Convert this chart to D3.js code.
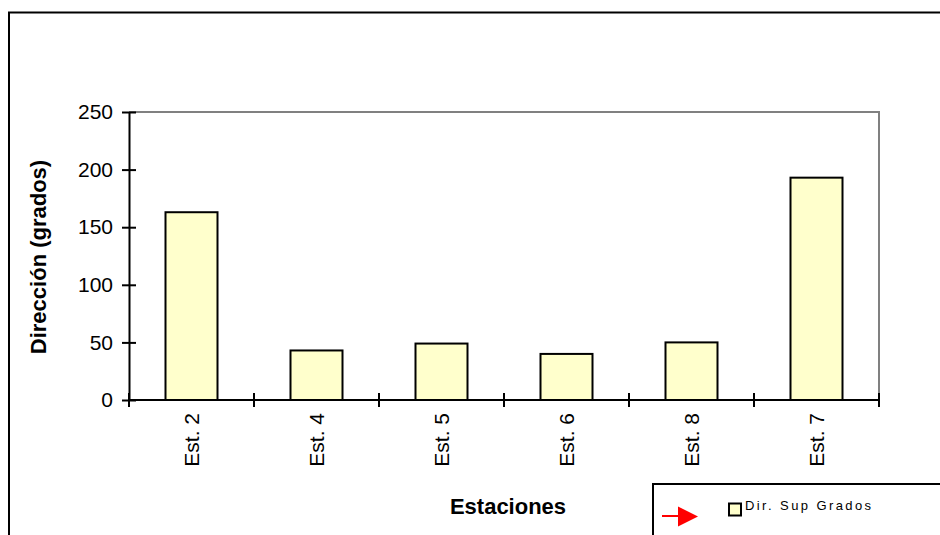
<!DOCTYPE html>
<html>
<head>
<meta charset="utf-8">
<script src="https://cdn.jsdelivr.net/npm/d3@7"></script>
<style>
  html, body { margin: 0; padding: 0; background: #fff; }
  svg { display: block; font-family: "Liberation Sans", Arial, sans-serif; }
</style>
</head>
<body>
<svg id="chart" width="940" height="535"></svg>
<script>
// Surface direction per station (degrees)
const estaciones = ["Est. 2", "Est. 4", "Est. 5", "Est. 6", "Est. 8", "Est. 7"];
const direccion = [163, 43, 49, 40, 50, 193];
const yTicks = [0, 50, 100, 150, 200, 250];
const serieNombre = "Dir. Sup Grados";

const svg = d3.select("#chart");
const plot = { left: 129, right: 879, top: 112, bottom: 400 };

// Outer frame (top and left edges visible)
svg.append("path")
  .attr("d", "M9,535 V12.5 H940")
  .attr("fill", "none").attr("stroke", "#000").attr("stroke-width", 2);

const x = d3.scaleBand()
  .domain(estaciones)
  .range([plot.left, plot.right])
  .paddingInner(0.584)
  .paddingOuter(0.292);

const y = d3.scaleLinear().domain([0, 250]).range([plot.bottom, plot.top]);

// Plot area border (grey top and right)
svg.append("path")
  .attr("d", `M${plot.left},${plot.top} H${plot.right} V${plot.bottom}`)
  .attr("fill", "none").attr("stroke", "#808080").attr("stroke-width", 2);

// Bars
svg.append("g").selectAll("rect")
  .data(estaciones.map((e, i) => ({ e, v: direccion[i] })))
  .join("rect")
  .attr("x", d => x(d.e))
  .attr("y", d => y(d.v))
  .attr("width", x.bandwidth())
  .attr("height", d => y(0) - y(d.v))
  .attr("fill", "#FFFFCC")
  .attr("stroke", "#000")
  .attr("stroke-width", 2);

// Y axis with crossing ticks
const yAxis = svg.append("g").attr("transform", `translate(${plot.left},0)`)
  .call(d3.axisLeft(y).tickValues(yTicks).tickSize(7).tickPadding(8).tickSizeOuter(0));
yAxis.select(".domain").attr("stroke", "#000").attr("stroke-width", 2);
yAxis.selectAll(".tick line").attr("x1", 7).attr("x2", -7).attr("stroke", "#000").attr("stroke-width", 2);
yAxis.selectAll(".tick text").attr("font-size", 21).attr("fill", "#000")
  .attr("font-family", "Liberation Sans, Arial, sans-serif").attr("x", -16);

// X axis: ticks on category boundaries
const xAxis = svg.append("g").attr("transform", `translate(0,${plot.bottom})`);
xAxis.append("line")
  .attr("x1", plot.left).attr("x2", plot.right)
  .attr("stroke", "#000").attr("stroke-width", 2);
const bounds = d3.range(estaciones.length + 1).map(i => plot.left + i * x.step());
xAxis.selectAll(".bt").data(bounds).join("line")
  .attr("class", "bt")
  .attr("x1", d => d).attr("x2", d => d)
  .attr("y1", -7).attr("y2", 7)
  .attr("stroke", "#000").attr("stroke-width", 2);
xAxis.selectAll(".lbl").data(estaciones).join("text")
  .attr("class", "lbl")
  .attr("transform", d => `translate(${x(d) + x.bandwidth() / 2 + 7},13) rotate(-90)`)
  .attr("text-anchor", "end")
  .attr("font-size", 21)
  .attr("fill", "#000")
  .text(d => d);

// Axis titles
svg.append("text")
  .attr("transform", "translate(46,257) rotate(-90)")
  .attr("text-anchor", "middle")
  .attr("font-size", 22).attr("font-weight", "bold")
  .text("Dirección (grados)");

svg.append("text")
  .attr("x", 508).attr("y", 514)
  .attr("text-anchor", "middle")
  .attr("font-size", 22).attr("font-weight", "bold")
  .text("Estaciones");

// Legend
const lg = svg.append("g");
lg.append("rect")
  .attr("x", 653).attr("y", 484).attr("width", 300).attr("height", 60)
  .attr("fill", "#fff").attr("stroke", "#000").attr("stroke-width", 2);
lg.append("line")
  .attr("x1", 662).attr("x2", 680).attr("y1", 516).attr("y2", 516)
  .attr("stroke", "#ff0000").attr("stroke-width", 2);
lg.append("path")
  .attr("d", "M678,506.5 L698,516.5 L678,526.5 Z")
  .attr("fill", "#ff0000");
lg.append("rect")
  .attr("x", 729).attr("y", 503.5).attr("width", 12).attr("height", 12)
  .attr("fill", "#FFFFCC").attr("stroke", "#000").attr("stroke-width", 2);
lg.append("text")
  .attr("x", 745).attr("y", 510)
  .attr("font-size", 13)
  .attr("letter-spacing", 2.4)
  .attr("fill", "#000")
  .text(serieNombre);
</script>
</body>
</html>
